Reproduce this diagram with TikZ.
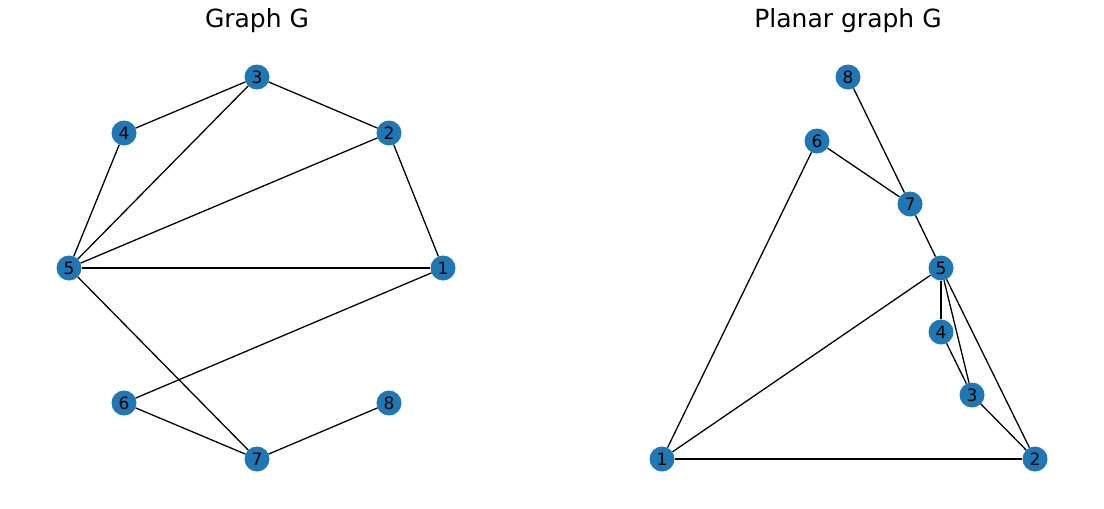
\documentclass[tikz,border=0pt]{standalone}
\usepackage{fontspec}
\setmainfont{DejaVu Sans}
\usepackage{xcolor}
\definecolor{nxblue}{HTML}{1F77B4}
\begin{document}
\begin{tikzpicture}[x=1pt, y=-1pt]
                % left: graph G, right: planar drawing of G
                \useasboundingbox (0, 0) rectangle (1104, 509);
                \tikzstyle{every node}=[circle, fill=nxblue, draw=none, minimum size=25pt, inner sep=0pt, font=\fontsize{17}{20}\selectfont]
                \tikzstyle{every edge}=[black, -, line width=1.3pt, draw]
                \tikzstyle{title}=[fill=none, rectangle, minimum size=0pt, font=\fontsize{25}{30}\selectfont]
                \node[title] (T1) at (257, 21) {Graph G};
                \node (A3) at (257, 77) {3};
                \node (A4) at (124, 133) {4};
                \node (A2) at (389, 133) {2};
                \node (A5) at (69, 268) {5};
                \node (A1) at (443, 268) {1};
                \node (A6) at (124, 403) {6};
                \node (A8) at (389, 403) {8};
                \node (A7) at (257, 459) {7};
                \draw (A3) edge (A4);
                \draw (A3) edge (A2);
                \draw (A3) edge (A5);
                \draw (A4) edge (A5);
                \draw (A2) edge (A5);
                \draw (A2) edge (A1);
                \draw (A5) edge (A1);
                \draw (A5) edge (A7);
                \draw (A1) edge (A6);
                \draw (A6) edge (A7);
                \draw (A7) edge (A8);
                \node[title] (T2) at (848, 21) {Planar graph G};
                \node (B8) at (848, 77) {8};
                \node (B6) at (817, 141) {6};
                \node (B7) at (910, 204) {7};
                \node (B5) at (941, 268) {5};
                \node (B4) at (941, 332) {4};
                \node (B3) at (972, 395) {3};
                \node (B1) at (662, 459) {1};
                \node (B2) at (1035, 459) {2};
                \draw (B8) edge (B7);
                \draw (B6) edge (B7);
                \draw (B7) edge (B5);
                \draw (B6) edge (B1);
                \draw (B5) edge (B1);
                \draw (B5) edge (B4);
                \draw (B5) edge (B3);
                \draw (B5) edge (B2);
                \draw (B4) edge (B3);
                \draw (B3) edge (B2);
                \draw (B1) edge (B2);
        \end{tikzpicture}
\end{document}
